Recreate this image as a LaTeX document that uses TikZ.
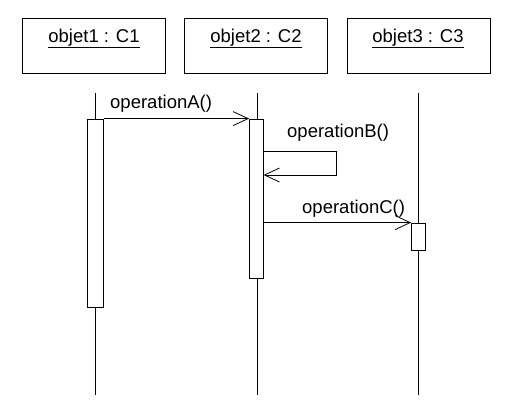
\documentclass[tikz,border=0pt]{standalone}
\usepackage{fontspec}
\setmainfont{Liberation Sans}
\usetikzlibrary{arrows.meta}
\begin{document}
\begin{tikzpicture}[x=1pt,y=-1pt,
  obj/.style={draw,line width=0.8pt,minimum width=143pt,minimum height=55pt,inner sep=0pt},
  act/.style={draw,line width=0.8pt,fill=white,inner sep=0pt},
  life/.style={line width=0.8pt},
  msg/.style={line width=0.8pt,-{Straight Barb[length=15pt,width=14pt,line width=0.8pt]}},
  lbl/.style={font=\fontsize{18.5}{21}\selectfont,inner sep=0pt,anchor=base west}]
\useasboundingbox (0,0) rectangle (515,415);
% objects
\node[obj] (o1) at (93.5,45.5) {};
\node[obj] (o2) at (256,45.5) {};
\node[obj] (o3) at (418.5,45.5) {};
\node[lbl,anchor=base] (t1) at (94,42) {\underline{objet1 : C1}};
\node[lbl,anchor=base] (t2) at (256,42) {\underline{objet2 : C2}};
\node[lbl,anchor=base] (t3) at (418,42) {\underline{objet3 : C3}};
% lifelines
\coordinate (l1t) at (95.5,93); \coordinate (l1b) at (95.5,395);
\coordinate (l2t) at (257,93); \coordinate (l2b) at (257,395);
\coordinate (l3t) at (418.5,93); \coordinate (l3b) at (418.5,395);
\draw[life] (l1t) -- (l1b);
\draw[life] (l2t) -- (l2b);
\draw[life] (l3t) -- (l3b);
% activations
\node[act,minimum width=16pt,minimum height=188pt] (a1) at (95.5,213) {};
\node[act,minimum width=14pt,minimum height=159pt] (a2) at (256.5,198.5) {};
\node[act,minimum width=14pt,minimum height=27pt] (a3) at (418.5,236.5) {};
% operationA
\draw[msg] (a1.north east) -- (a2.north west);
\node[lbl] (ta) at (110,108) {operationA()};
% operationB (self call)
\coordinate (b1) at (263.5,151);
\coordinate (b2) at (336.5,151);
\coordinate (b3) at (336.5,175);
\coordinate (b4) at (263.5,175);
\draw[msg] (b1) -- (b2) -- (b3) -- (b4);
\node[lbl] (tb) at (287,137) {operationB()};
% operationC
\draw[msg] (a2.east |- a3.north) -- (a3.north west);
\node[lbl] (tc) at (302,213) {operationC()};
\end{tikzpicture}
\end{document}
